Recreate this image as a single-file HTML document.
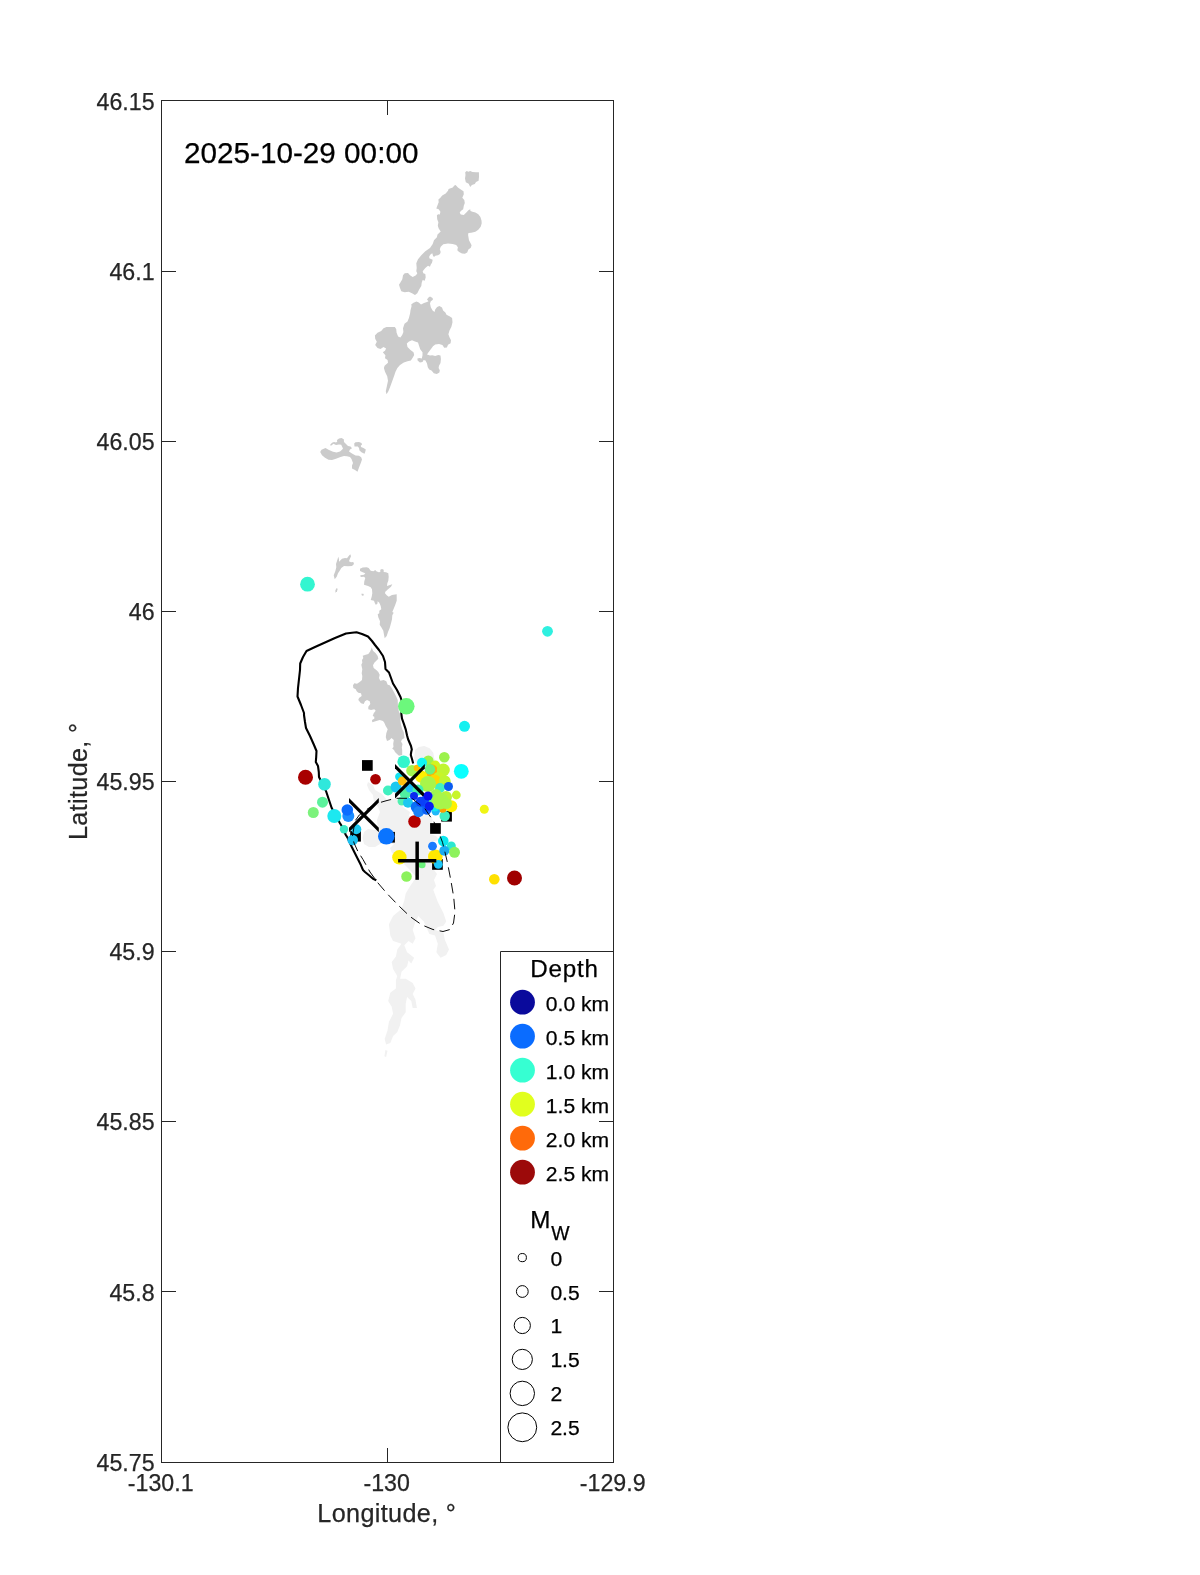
<!DOCTYPE html>
<html><head><meta charset="utf-8"><title>Seismicity map</title>
<style>html,body{margin:0;padding:0;background:#fff}svg{display:block;will-change:transform}text{font-family:"Liberation Sans",sans-serif;fill:#262626;stroke:#262626;stroke-width:0.25px}.tk{font-size:23.2px}.lb{font-size:25.2px;letter-spacing:0.35px}.lg{font-size:21.1px;fill:#000;stroke:#000}.lt{font-size:24.2px;fill:#000;stroke:#000;letter-spacing:0.8px}</style></head><body>
<svg width="1200" height="1575" viewBox="0 0 1200 1575">
<rect width="1200" height="1575" fill="#fff"/>
<g id="light">
<path d="M368 782 L373 785 L375 790 L382 794 L387 800 L396 799 L400 803 L404 808 L410 812 L409 816 L420 817 L428 814 L433 820 L430 826 L430 834 L436 836 L439 840 L430 842 L428 850 L432 853 L433 858 L436 866 L434 870 L437 874 L434 880 L436 886 L433 890 L430 900 L409 900 L410 893 L413 888 L416 882 L418 879 L410 870 L400 860 L392 853 L390 848 L394 844 L380 844 L375 847 L369 847 L364 844 L362.5 838 L364 832 L368 829 L374 830 L378 829 L377 820 L380 812 L378 807 L374 803 L373 795 L369 790 L367 785Z" fill="#f1f1f1"/>
<path d="M415 750.1 L418.7 746.9 L424.2 746 L429.7 748.2 L433.3 752.8 L434.2 758.3 L437 763.8 L433.3 770.2 L424.2 770.2 L416.8 765.7 L414.1 758.3Z" fill="#f1f1f1"/>
<path d="M415.5 878.2 L423.8 874 L430.8 881 L433.6 890.7 L437.8 901.9 L443.4 913.1 L446.2 921.5 L443.4 925.7 L437.8 927.1 L435 929.9 L443.4 932.7 L444.8 939.7 L449 949.4 L446.2 955 L440.6 957.8 L436.4 952.2 L437.8 943.8 L435 935.5 L429.4 934.1 L423.8 921.5 L418.3 915.9 L415.5 921.5 L412.7 929.9 L415.5 938.3 L412.7 943.8 L408.5 941 L404.3 945.2 L407.1 952.2 L414.1 957.8 L411.3 963.4 L408.5 960.6 L407.1 966.2 L401.5 971.8 L400.1 978.8 L405.7 978.8 L412.7 983 L415.5 988.6 L412.7 994.1 L415.5 999.7 L416.9 1008.1 L412.7 1008.1 L411.3 1001.1 L407.1 996.9 L405.7 1003.9 L405.7 1012.3 L401.5 1017.9 L400.1 1024.9 L397.3 1031.9 L393.1 1036.1 L390.3 1043.1 L386.1 1044.5 L384.7 1038.9 L387.5 1030.5 L388.9 1022.1 L393.1 1013.7 L391.7 1006.7 L388.2 1001.1 L390.3 992.8 L395.9 988.6 L395.9 980.2 L397.3 976 L393.1 969 L391.7 962 L395.9 956.4 L397.3 949.4 L401.5 943.8 L393.1 941 L390.3 935.5 L388.9 924.3 L393.1 915.9 L401.5 908.9 L404.3 900.5 L405.7 893.5 L409.9 886.6Z" fill="#f1f1f1"/>
<path d="M385.4 1050 L387.5 1050.7 L386.1 1057 L384.4 1056.3Z" fill="#f1f1f1"/>
</g>
<g id="gray">
<path d="M465.2 172.3 L466.7 171 L468.4 171.7 L470.2 171.1 L472.5 172 L476 172.3 L478.9 172.3 L479 176.7 L478.6 180.8 L476 181.9 L474.8 184 L471.9 185.1 L470.2 186.9 L468.7 183.7 L465.8 182.2 L465 178.4 L465.5 174.9Z" fill="#cbcbcb"/>
<path d="M455.6 185.1 L457.9 187.5 L460.8 189.5 L463.5 191.2 L463.8 194.2 L462.3 197.7 L464.3 200 L464.8 202.9 L463.8 205.8 L463.2 209.3 L460.8 211.1 L459.7 212.8 L460.8 214.6 L463.8 214.9 L466.1 212.8 L468.4 210.2 L470.2 209.2 L470.5 211.1 L472.5 211.7 L475.4 212.5 L478.3 214.3 L480.4 216.9 L481.5 220.4 L481.7 223.3 L480.7 226.8 L478.3 229.8 L475.4 231.8 L471.3 232.7 L468.4 233 L468.1 235 L469 240.2 L470.2 242.6 L471.6 245.2 L470.8 247.8 L468.4 249.6 L467.2 252.5 L464.9 253.7 L462 253.4 L459.1 251.9 L457.3 250.2 L457.9 247.2 L456.2 244.9 L452.7 244 L448 243.5 L443.3 244.3 L440.7 246.7 L439.8 249.3 L440.7 252 L440 254 L438 255.3 L435.3 255.7 L434 257 L433 255.7 L432.3 253.3 L430.7 254.3 L429.3 256.3 L429.3 258.3 L432.7 259.7 L432 262.7 L430.7 264.7 L430 266.7 L428 265.7 L425.3 268 L422.7 271.3 L423.3 273.3 L425.3 274 L425.7 277.3 L424.7 280.7 L422.7 280 L421.7 282.7 L421.3 286 L419.3 289.3 L417.3 293.3 L415 295 L412 293.3 L408.7 291.7 L404.7 292.3 L401.3 291.3 L400 288 L399 284.7 L400.7 282 L402.3 279.3 L403 275.3 L404.7 273.3 L408 273 L410 275.3 L412.7 277 L416 275.3 L417.3 273.3 L416.3 271.3 L416.7 268 L416.3 263.3 L418 259.3 L421.3 255.3 L425.3 251.3 L430 248 L432.7 244 L434 240.2 L436.9 237.3 L437.5 234.4 L440.7 231.5 L438.7 228.6 L437.8 225.7 L438.4 222.2 L437.2 219.2 L436.9 215.2 L438.1 214.3 L439.8 214.6 L440.4 211.7 L438.7 209.3 L436.3 208.5 L437.5 205.2 L438.7 202.3 L438.4 199.4 L440.4 197.7 L442.2 195.6 L445.7 193.6 L448 190.7 L448.6 188.9 L452.7 187.5 L454.4 185.4Z" fill="#cbcbcb"/>
<path d="M430 296.4 L432.6 297.9 L432.9 299.8 L430.8 301.2 L430 303.5 L430.8 307.2 L432.6 310.6 L434.5 312.1 L435.2 309.5 L437.1 306.9 L439.4 306.1 L442 307.6 L443.1 310.6 L445.4 312.5 L446.5 314.8 L449.5 316.2 L452.1 318.1 L452.5 322.2 L451.4 326.8 L449.5 330.5 L448.4 334.2 L449.5 337.2 L451 340.2 L450.6 343.2 L448 344.8 L446.9 347.4 L444.2 347.8 L442.4 345.1 L439 344 L435.2 344.4 L433 346.2 L430.8 349.2 L428.5 352.2 L427 354.5 L430 355.6 L432.2 355.2 L435.2 356 L438.2 355.1 L440.5 355.4 L440.9 359 L440.5 363.1 L439 365.8 L438.6 368 L439.8 370.2 L439.4 372.5 L436.8 373.9 L433.8 373.2 L431.5 370.6 L429.2 369.5 L427.8 367.2 L427 363.5 L425.5 360.5 L423.6 360.1 L422.5 362 L419.9 362.6 L417.6 360.5 L417.4 358.6 L419.5 358.1 L421.8 358.4 L422.5 355.2 L422.5 352.2 L420.2 349.2 L419.1 345.9 L418 342.5 L415 341.4 L412 340.2 L409 341.4 L406.8 343.6 L407.5 347 L410.5 350 L413.5 352.2 L414.2 354.9 L412.8 357.5 L410.9 360.5 L407.5 361.2 L403.8 362.4 L400 365 L397.4 368 L395.5 371.8 L394 376.2 L392.1 381.5 L390.2 386.8 L388.4 391.2 L386.5 394.2 L385.8 391.2 L386.9 386 L388 380.8 L387.2 376.2 L385 371.8 L383.9 368 L384.6 365.8 L388 362.8 L387.6 360.1 L385 358.2 L385.4 355.2 L382.8 352.2 L385 350.8 L386.1 348.5 L383.5 347 L380.5 348.9 L377.5 348.1 L375.2 345.1 L376.8 341.8 L375.2 338.8 L374.9 335.4 L377.5 332.8 L381.2 330.9 L383.5 328.2 L386.5 327.1 L394.8 327.1 L396.2 329 L396.6 332.8 L398.1 336.5 L400.4 337.6 L402.2 335 L403.4 332 L403 328.2 L404.5 323.8 L407.5 321.5 L409 317.8 L410.1 313.2 L410.5 310.2 L411.6 306.1 L411.2 304.6 L413.5 302.8 L416.5 301.6 L418.8 302.4 L421 304.6 L424 303.1 L427 302 L428.5 301.2 L427 299.4 L428.5 297.5Z" fill="#cbcbcb"/>
<path d="M320.2 452 L321.5 449.8 L325.5 448 L328.5 449.8 L333 451.8 L336.5 452.5 L340 451.5 L342 449.8 L343 448.5 L342 446.5 L341.2 444.8 L339 444.5 L336 445 L333.5 443.8 L331 445.8 L330 445 L332 442.8 L334 442 L336 442.5 L337.2 441.8 L337 440 L339 438.5 L341.5 438 L343.8 439.2 L344 442 L346 444 L348 446 L350.5 446.5 L352 448.2 L350 449.5 L349 451.5 L352 453.5 L355.5 455.5 L359 455.8 L361.2 457.2 L362 459.5 L360.8 463 L359 467.5 L357.5 471.8 L355 470 L352 468.5 L352 465.5 L353 463 L351.5 459 L350 457 L347 456.2 L344 456 L340.5 457 L336 458.8 L332 460 L328.5 459.8 L325 457.8 L322 455.2Z" fill="#cbcbcb"/>
<path d="M354.2 443.5 L355.5 442.2 L359 442 L361.5 443 L362 444.8 L360.8 445.5 L361 447 L363.5 448 L365.8 449.5 L365.2 452 L364.5 453.8 L361.5 452.2 L359.5 450.5 L359 448 L357.8 446.5 L354.5 446.5Z" fill="#cbcbcb"/>
<path d="M350.3 554.3 L351 556.3 L349.7 559.3 L349 561.3 L351 562.3 L353.3 562 L354 564 L352 566 L348 566.3 L344 566 L341.3 568 L339.7 570.7 L338 573.3 L336.7 576.7 L334.7 579.3 L333.7 575.3 L335.3 571.3 L336.3 567.3 L336 564 L337.3 560 L338.3 556.7 L339 559.3 L339 561.7 L342 558.7 L345 558 L347 558.3 L348.7 556Z" fill="#cbcbcb"/>
<path d="M336.3 588.3 L337.7 588.7 L337 591.3 L335.3 592.7 L335.5 590.3Z" fill="#cbcbcb"/>
<path d="M361.3 593.7 L363.3 593.7 L364 595.3 L362 595.7Z" fill="#cbcbcb"/>
<path d="M360 568.7 L362.7 567.5 L366.7 567.2 L368.7 568 L370.7 570.7 L373.3 571.3 L375.3 570 L376.3 571.3 L378.7 572.3 L380.3 572 L380.3 569.7 L382 569 L383.7 569.7 L383.7 572 L386 572.3 L388.3 573.3 L388.7 576.7 L388.3 580.7 L387.3 583.3 L387 586 L390 585 L392.3 584.3 L391 586.7 L388 589.3 L385.3 591.7 L385 593.3 L386.7 595.3 L388.7 596.7 L392 595 L396.7 594.3 L396.7 600.7 L395.3 604.7 L393.7 608.7 L392.3 612 L393.7 612.7 L392.3 615.3 L392 619.3 L391 623.3 L389.7 628 L388 632 L386.7 636 L384.7 638.3 L384 634.7 L383.3 630.7 L381.3 627.3 L379.7 624.7 L380 621.3 L378.3 617.3 L377.7 614.3 L379.3 613.3 L379.3 610.7 L381.3 609.3 L380.7 606 L379.3 602.7 L377.7 601.3 L377.3 604 L375.7 604.7 L374.7 602.7 L374 600.7 L370.7 600 L371.7 596.7 L372.3 593.3 L372 589.3 L370.7 587.3 L368 586 L364 584.7 L364.3 581.3 L365.3 578 L364 576.7 L360.7 577 L360.3 575.3 L364 574.7 L365.3 573.3 L362.7 572.3 L360 571Z" fill="#cbcbcb"/>
<path d="M371.7 647.3 L373 650.7 L375.7 653.3 L377.7 656 L378.3 658.7 L376.3 660.7 L374.3 662.7 L373 665.3 L373.7 668 L376.3 670 L378.3 672 L379.7 674.7 L379 678 L380.3 680.7 L383.7 680 L386.3 681.3 L387.7 684.7 L389.7 685.3 L391.7 688 L394.3 692.7 L396.3 696.7 L397.7 700 L398 706.7 L399 712 L400.7 714.7 L400.3 720 L401 724.7 L402.3 729.3 L403.7 732 L404.3 736 L404.5 738 L402 739.5 L401 741.5 L402.5 744 L401.8 747.5 L402.2 750 L402.2 755 L399 755.8 L397 754 L395 752 L394 750 L392.2 748.5 L393.5 747 L393.2 744 L393.8 740 L391.5 738 L389.5 740 L387 741 L385.8 737.2 L386.3 733.3 L387.7 729.3 L385.7 726 L384.3 722.7 L383 721 L379.7 720 L376.3 721 L372.3 722.3 L372 720 L374.3 718.7 L374.3 716.7 L372.7 716 L373.7 713.3 L375.7 710.7 L374.3 709.3 L371 710 L368.3 709.3 L368.3 706.7 L370.3 704 L369.7 701.3 L367 700 L365 701.3 L363.7 704 L361 703.3 L358.3 700 L359 698 L361.7 696 L361 693.3 L358.3 692.7 L356.7 691.3 L355.7 689.3 L353.3 688 L353 685.3 L354.3 683.3 L357 683.7 L359.7 682 L362 680 L362.3 676 L361.7 673.3 L362.3 669.3 L361.3 664.7 L362.3 662.7 L362 660 L363.3 658 L362.7 655.7 L365.7 654.7 L368.3 654 L370.3 651.3 L371.3 648.7Z" fill="#cbcbcb"/>
</g>
<g id="lines">
<path d="M376.3 880.2 L373 878.7 L369 875.3 L365 872 L363 870 L361 865.3 L357.7 858.7 L354.3 852 L351.7 846.7 L347.7 838 L345.7 834.7 L341.7 826 L339.7 822.7 L331.7 808 L329 800 L329 800 L326 791 L320 779 L319 777 L318.8 772 L318 766 L315.8 762 L316.2 757 L316.5 751 L314 745 L310 736 L306 728 L305 722 L304 715 L304 713 L301 705 L297.5 696.5 L298 688 L299 679 L300 670 L300.2 663.5 L303 657 L306.5 651 L315 647 L325 642.5 L335 638 L346 633.5 L352 632.8 L356.5 632.3 L362 634 L368 636.5 L372 641 L375 645 L379 650 L383 656 L385 662 L385.5 669 L389 672.5 L391 678 L393 683.5 L397 690 L400.5 697 L401.5 700 L401.8 707 L401.3 713.3 L402 718.7 L403.7 723.3 L405.7 729.3 L407 735.3 L408 739 L409.5 742.5 L411 746 L411.8 749.5 L411.2 752 L410.8 755 L412 759 L413.2 763.5" fill="none" stroke="#000" stroke-width="2.1" stroke-linejoin="round"/>
</g>
<g id="sq" fill="#000">
<rect x="362" y="760.1" width="10.7" height="10.7"/>
<rect x="350.2" y="830.9" width="10.7" height="10.7"/>
<rect x="384.2" y="831.9" width="10.7" height="10.7"/>
<rect x="430.1" y="823.1" width="10.7" height="10.7"/>
<rect x="441.2" y="810.9" width="10.7" height="10.7"/>
<rect x="432.1" y="859.1" width="10.7" height="10.7"/>
</g>
<g id="pts">
<circle cx="307.5" cy="584.2" r="7.4" fill="#33f5d0"/>
<circle cx="547.5" cy="631.3" r="5.4" fill="#2ff0e0"/>
<circle cx="406.3" cy="706.3" r="8.3" fill="#6cf87c"/>
<circle cx="464.5" cy="726.3" r="5.5" fill="#14f0f0"/>
<circle cx="305.5" cy="777.2" r="7.5" fill="#a80000"/>
<circle cx="324.5" cy="784.3" r="6.3" fill="#2fe8dc"/>
<circle cx="322.5" cy="802.2" r="5.5" fill="#5cf29c"/>
<circle cx="313.3" cy="812.5" r="5.5" fill="#7cf27c"/>
<circle cx="375.5" cy="779.3" r="5.3" fill="#a80000"/>
<circle cx="484.3" cy="809.3" r="4.5" fill="#f0f514"/>
<circle cx="514.5" cy="878" r="7.5" fill="#a00000"/>
<circle cx="494.3" cy="879.3" r="5.3" fill="#ffe000"/>
<circle cx="348.3" cy="816" r="6" fill="#1a8cff"/>
<circle cx="347.3" cy="810" r="5.8" fill="#0a6cff"/>
<circle cx="334.3" cy="816" r="7" fill="#1de8f0"/>
<circle cx="344" cy="829.3" r="4.2" fill="#3be8c8"/>
<circle cx="356.3" cy="829.3" r="5" fill="#1cc8f0"/>
<circle cx="352.7" cy="840" r="5.3" fill="#1cc0f0"/>
<circle cx="406.5" cy="876.5" r="5.3" fill="#8cf25c"/>
<circle cx="422" cy="864.7" r="3.6" fill="#6cf27c"/>
<circle cx="399.4" cy="857.3" r="7.2" fill="#ffee00"/>
<circle cx="435.3" cy="856.7" r="7.3" fill="#ffe800"/>
<circle cx="432.5" cy="846.2" r="4.4" fill="#1a7cff"/>
<circle cx="451.3" cy="846" r="4.5" fill="#2be8d0"/>
<circle cx="443.3" cy="841" r="5.3" fill="#0ae8f0"/>
<circle cx="454.5" cy="852.3" r="5.5" fill="#8cf25c"/>
<circle cx="444.3" cy="850.7" r="5" fill="#1aacf0"/>
<circle cx="438.3" cy="864.3" r="4.4" fill="#1cc8f8"/>
<circle cx="414.5" cy="821.5" r="6.3" fill="#b40000"/>
<circle cx="444.7" cy="816" r="5.2" fill="#40f0c0"/>
<circle cx="388" cy="790.5" r="5" fill="#40f0c0"/>
<circle cx="396" cy="787" r="5.5" fill="#1cc8f0"/>
<circle cx="403.7" cy="761.7" r="6.3" fill="#33f5cc"/>
<circle cx="399.3" cy="776.7" r="4.2" fill="#14e0f0"/>
<circle cx="402.3" cy="781" r="4.5" fill="#ffc010"/>
<circle cx="444.3" cy="757.2" r="5.3" fill="#9cf24c"/>
<circle cx="461.3" cy="771.3" r="7.4" fill="#0affff"/>
<circle cx="456.3" cy="795" r="4.4" fill="#c8f528"/>
<circle cx="451.3" cy="806.3" r="6" fill="#fff000"/>
<circle cx="442.7" cy="809" r="3.8" fill="#ffa000"/>
<circle cx="435.7" cy="811.3" r="4.2" fill="#20b8f8"/>
<circle cx="434.7" cy="807" r="4.5" fill="#14e8f0"/>
<circle cx="405.3" cy="793.5" r="5.5" fill="#50f0a0"/>
<circle cx="402" cy="801" r="4.5" fill="#50f0b0"/>
<circle cx="408" cy="802.7" r="5" fill="#1cc8f0"/>
<circle cx="410" cy="788" r="4.5" fill="#20c0f8"/>
<circle cx="412" cy="770.7" r="5.8" fill="#a4f550"/>
<circle cx="417" cy="768" r="3.3" fill="#ffc000"/>
<circle cx="428.3" cy="760.7" r="5.3" fill="#9cf24c"/>
<circle cx="422" cy="762.7" r="5" fill="#0ff5f5"/>
<circle cx="435.3" cy="765.3" r="4.8" fill="#d0f520"/>
<circle cx="431.3" cy="770.7" r="6.5" fill="#ffb400"/>
<circle cx="421.3" cy="776.7" r="6.2" fill="#fff000"/>
<circle cx="430" cy="769.3" r="5.2" fill="#6cf27c"/>
<circle cx="443.3" cy="770" r="6.5" fill="#c0f530"/>
<circle cx="438.7" cy="777.3" r="5.5" fill="#c8f528"/>
<circle cx="434.5" cy="781" r="6.5" fill="#ffd800"/>
<circle cx="444.7" cy="781.3" r="6" fill="#c0f530"/>
<circle cx="440" cy="788" r="5" fill="#40f0c0"/>
<circle cx="428" cy="784" r="8" fill="#a8f54a"/>
<circle cx="418" cy="790" r="5.5" fill="#40f0b0"/>
<circle cx="436" cy="795" r="6" fill="#a0f550"/>
<circle cx="446" cy="797" r="6" fill="#b8f538"/>
<circle cx="434" cy="800.5" r="6" fill="#60f090"/>
<circle cx="440" cy="801" r="8.5" fill="#a8f54a"/>
<circle cx="446.5" cy="803.5" r="5.5" fill="#a8f54a"/>
<circle cx="448.5" cy="786.5" r="4.5" fill="#0a5cf0"/>
</g>
<g id="marks" fill="#000">
<path d="M349 798L378.8 827.7L378.8 832.2L349 802.5Z"/>
<path d="M349 827.7L378.8 798L378.8 802.5L349 832.2Z"/>
<path d="M395 764.1L424.8 793.8L424.8 798.4L395 768.6Z"/>
<path d="M395 793.8L424.8 764.1L424.8 768.6L395 798.4Z"/>
<rect x="398.1" y="859" width="38.2" height="3.5"/>
<rect x="415.4" y="841.6" width="3.5" height="38.2"/>
</g>
<g id="pts2">
<circle cx="424.5" cy="800.5" r="4.5" fill="#0a50f8"/>
<circle cx="423.5" cy="806.5" r="4.5" fill="#0a58f8"/>
<circle cx="416.7" cy="807" r="6" fill="#0a70f8"/>
<circle cx="418.7" cy="811.7" r="5.5" fill="#1a80f8"/>
<circle cx="426.7" cy="810.3" r="4.5" fill="#0a60f8"/>
<circle cx="414" cy="796" r="4" fill="#0a28f0"/>
<circle cx="420.7" cy="801.7" r="5" fill="#0a40f8"/>
<circle cx="429.3" cy="806.3" r="4.5" fill="#0a1cf0"/>
<circle cx="428" cy="796" r="4.5" fill="#0a0af0"/>
<circle cx="386.3" cy="836.3" r="8.3" fill="#0a74ff"/>
</g>
<path d="M352.5 836 L355 821 L359.3 815 L366 810 L375 804 L387 800.5 L396 798.3 L412 798.3 L417.3 802.7 L424.7 808.3 L428.5 814 L433.7 821.3 L439 833 L442.5 842.3 L444.8 851.5 L447.3 862 L450.8 880 L453.7 897 L455 912 L453.5 923 L450 929.5 L443 931.5 L433 929.5 L422 925 L410 916.5 L398 905 L387 893.5 L378 883 L370 872 L363 859.5 L357.7 851 L354 843Z" fill="none" stroke="#000" stroke-width="0.95" stroke-linejoin="round" stroke-dasharray="10.5 5.5"/>
<g id="axes" stroke="#262626" stroke-width="1" fill="none">
<rect x="161.5" y="100.5" width="452" height="1362"/>
<path d="M161.5 271.5h14.5 M613.5 271.5h-14.5 M161.5 441.5h14.5 M613.5 441.5h-14.5 M161.5 611.5h14.5 M613.5 611.5h-14.5 M161.5 781.5h14.5 M613.5 781.5h-14.5 M161.5 951.5h14.5 M613.5 951.5h-14.5 M161.5 1121.5h14.5 M613.5 1121.5h-14.5 M161.5 1291.5h14.5 M613.5 1291.5h-14.5 M387.5 1462.5v-14.5 M387.5 100.5v14.5"/>
<path d="M613.5 951.5H500.5V1462.5"/>
</g>
<g class="tk">
<text x="154.6" y="109.8" text-anchor="end">46.15</text>
<text x="154.6" y="279.9" text-anchor="end">46.1</text>
<text x="154.6" y="450" text-anchor="end">46.05</text>
<text x="154.6" y="620.1" text-anchor="end">46</text>
<text x="154.6" y="790.2" text-anchor="end">45.95</text>
<text x="154.6" y="960.3" text-anchor="end">45.9</text>
<text x="154.6" y="1130.4" text-anchor="end">45.85</text>
<text x="154.6" y="1300.5" text-anchor="end">45.8</text>
<text x="154.6" y="1470.6" text-anchor="end">45.75</text>
<text x="160.7" y="1490.7" text-anchor="middle">-130.1</text>
<text x="386.7" y="1490.7" text-anchor="middle">-130</text>
<text x="612.7" y="1490.7" text-anchor="middle">-129.9</text>
</g>
<text class="lb" x="386.8" y="1522" text-anchor="middle">Longitude, °</text>
<text class="lb" transform="translate(87.4 781.3) rotate(-90)" text-anchor="middle">Latitude, °</text>
<text x="184" y="162.9" style="font-size:29.7px;fill:#000;stroke:#000">2025-10-29 00:00</text>
<text class="lt" x="564.4" y="977.1" text-anchor="middle">Depth</text>
<circle cx="522.5" cy="1002.2" r="12.4" fill="#0a0a9c"/>
<text class="lg" x="545.8" y="1010.8">0.0 km</text>
<circle cx="522.5" cy="1036.2" r="12.4" fill="#0a6cff"/>
<text class="lg" x="545.8" y="1044.8">0.5 km</text>
<circle cx="522.5" cy="1070.2" r="12.4" fill="#36ffd2"/>
<text class="lg" x="545.8" y="1078.8">1.0 km</text>
<circle cx="522.5" cy="1104.2" r="12.4" fill="#e1ff1e"/>
<text class="lg" x="545.8" y="1112.8">1.5 km</text>
<circle cx="522.5" cy="1138.2" r="12.4" fill="#ff6a0a"/>
<text class="lg" x="545.8" y="1146.8">2.0 km</text>
<circle cx="522.5" cy="1172.2" r="12.4" fill="#9c0a0a"/>
<text class="lg" x="545.8" y="1180.8">2.5 km</text>
<text class="lt" x="530.2" y="1227.7">M<tspan dy="12.3" style="font-size:19.4px">W</tspan></text>
<circle cx="522.3" cy="1257.6" r="4.1" fill="none" stroke="#000" stroke-width="1"/>
<text class="lg" x="550.4" y="1265.5">0</text>
<circle cx="522.3" cy="1291.5" r="5.9" fill="none" stroke="#000" stroke-width="1"/>
<text class="lg" x="550.4" y="1299.5">0.5</text>
<circle cx="522.3" cy="1325.5" r="8.1" fill="none" stroke="#000" stroke-width="1"/>
<text class="lg" x="550.4" y="1333.4">1</text>
<circle cx="522.3" cy="1359.4" r="10.1" fill="none" stroke="#000" stroke-width="1"/>
<text class="lg" x="550.4" y="1367.3">1.5</text>
<circle cx="522.3" cy="1393.4" r="12.2" fill="none" stroke="#000" stroke-width="1"/>
<text class="lg" x="550.4" y="1401.3">2</text>
<circle cx="522.3" cy="1427.3" r="14.4" fill="none" stroke="#000" stroke-width="1"/>
<text class="lg" x="550.4" y="1435.2">2.5</text>
</svg></body></html>
